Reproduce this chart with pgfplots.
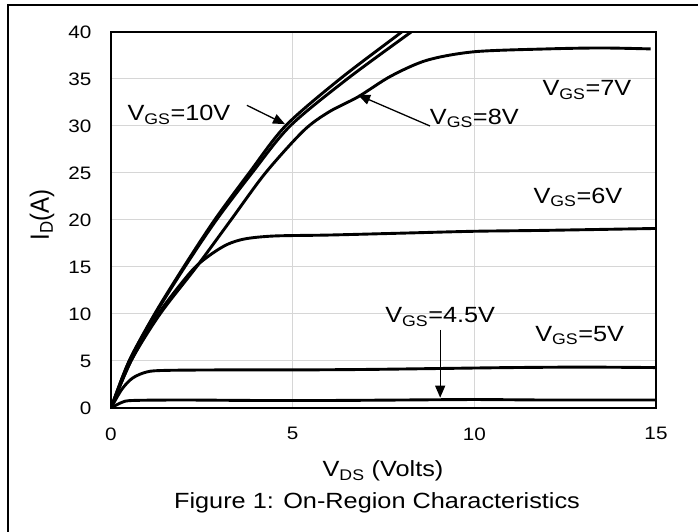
\documentclass[border=0pt]{standalone}
\usepackage{graphicx}
\usepackage{fontspec}
\setmainfont{Liberation Sans}
\usepackage{pgfplots}
\pgfplotsset{compat=1.18}
\usetikzlibrary{arrows.meta}
\newcommand{\ann}{\fontsize{22}{24}\selectfont}
\newcommand{\sx}[1]{\scalebox{1.15}[1]{#1}}
\begin{document}
\begin{tikzpicture}
\path[use as bounding box] (0pt,0pt) rectangle (698pt,532pt);
\draw[line width=2.6pt] (8pt,0pt) -- (8pt,527pt) -- (698pt,527pt);
\begin{axis}[at={(111pt,124pt)}, anchor=south west, width=545pt, height=376pt, scale only axis,
 xmin=0,xmax=15,ymin=0,ymax=40, xtick={0,5,10,15}, ytick={0,5,...,40},
 grid=major, major grid style={draw=black!16, line width=1pt},
 axis line style={line width=1.1pt},
 major tick length=0pt,
 tick label style={font=\fontsize{18}{20}\selectfont},
 /pgf/number format/assume math mode=true,
 xticklabel={\sx{\pgfmathprintnumber{\tick}}},
 yticklabel={\sx{\pgfmathprintnumber{\tick}}},
 xticklabel style={yshift=-16pt}, yticklabel style={xshift=-16pt},
 crv/.style={black, line width=2.9pt, smooth, tension=0.5, mark=none},
 clip=true]
% 10V
\addplot[crv] coordinates {(0,0)(0.5,5)(1.2,10)(2.0,15)(2.85,20)(3.8,25)(4.8,30)(6.3,35)(8.0,40)(8.3,41)};
% 8V
\addplot[crv] coordinates {(0,0)(0.5,5)(1.22,10)(2.03,15)(2.9,20)(3.88,25)(4.93,30)(6.5,35)(8.26,40)(8.6,41)};
% 7V
\addplot[crv] coordinates {(0,0)(0.55,5)(1.35,10)(2.35,15)(3.3,20)(4.25,25)(5.3,29.5)(6.0,31.5)(6.8,33.1)(7.7,35.3)(8.7,37.0)(10,37.9)(12,38.2)(13.5,38.3)(14.85,38.2)};
% 6V
\addplot[crv] coordinates {(0,0)(0.55,5)(1.3,10)(2.2,14.5)(2.7,16.2)(3.2,17.4)(3.7,18.0)(4.5,18.3)(6,18.4)(8,18.6)(10,18.8)(12,18.9)(15,19.1)};
% 5V
\addplot[crv] coordinates {(0,0)(0.3,2.0)(0.6,3.2)(1.0,3.85)(1.5,4.0)(3,4.05)(5,4.05)(7,4.1)(9,4.2)(11,4.3)(13,4.35)(15,4.3)};
% 4.5V
\addplot[crv] coordinates {(0,0)(0.3,0.6)(0.6,0.8)(2,0.85)(4,0.8)(6,0.8)(8,0.85)(10,0.9)(12,0.85)(15,0.85)};
% annotations
\node[font=\ann] at (axis cs:1.87,31.2) {\sx{V\textsubscript{GS}=10V}};
\draw[line width=1.3pt, -{Triangle[length=12pt,width=10pt]}] (axis cs:3.74,32.2) -- (axis cs:4.79,30.2);
\node[font=\ann] at (axis cs:10.0,30.8) {\sx{V\textsubscript{GS}=8V}};
\draw[line width=1.3pt, -{Triangle[length=12pt,width=10pt]}] (axis cs:8.78,30.0) -- (axis cs:6.8,33.3);
\node[font=\ann] at (axis cs:13.1,33.8) {\sx{V\textsubscript{GS}=7V}};
\node[font=\ann] at (axis cs:12.85,22.4) {\sx{V\textsubscript{GS}=6V}};
\node[font=\ann] at (axis cs:9.06,9.7) {\sx{V\textsubscript{GS}=4.5V}};
\draw[line width=1.3pt, -{Triangle[length=12pt,width=10pt]}] (axis cs:9.06,8.3) -- (axis cs:9.06,1.1);
\node[font=\ann] at (axis cs:12.9,7.7) {\sx{V\textsubscript{GS}=5V}};
\end{axis}
\node[rotate=90, font=\fontsize{24}{26}\selectfont] at (42pt,317pt) {\scalebox{1}[1.1]{I\textsubscript{D}(A)}};
\node[font=\ann, anchor=base] at (383pt,55pt) {\sx{V\textsubscript{DS} (Volts)}};
\node[font=\ann, anchor=base] at (377pt,23pt) {\sx{Figure 1: On-Region Characteristics}};
\end{tikzpicture}
\end{document}
